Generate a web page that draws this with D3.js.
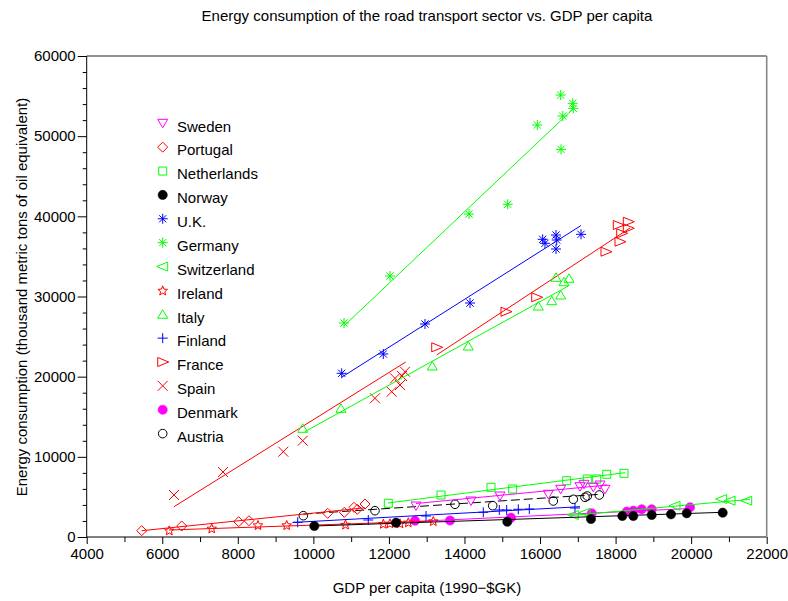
<!DOCTYPE html>
<html>
<head>
<meta charset="utf-8">
<script src="https://cdn.jsdelivr.net/npm/d3@7"></script>
<style>
  body { margin: 0; background: #fff; }
  text { font-family: "Liberation Sans", Arial, Helvetica, sans-serif; font-size: 15px; fill: #000; }
</style>
</head>
<body>
<svg id="chart" width="788" height="601"></svg>
<script>
// ---- data: GDP per capita (1990 $GK) vs road-transport energy use (kTOE) ----
const countries = ["Sweden", "Portugal", "Netherlands", "Norway", "U.K.", "Germany", "Switzerland",
                   "Ireland", "Italy", "Finland", "France", "Spain", "Denmark", "Austria"];

const sweden = [[12717,3867],[14173,4490],[14940,5114],[16219,5326],[16547,5950],[17058,6274],[17164,6574],[17410,6199],[17588,6486],[17720,5950]];
const portugal = [[5456,786],[6515,1372],[8023,1908],[8296,2033],[10379,2956],[10819,3081],[11076,3705],[11163,3455],[11367,4116]];
const netherlands = [[11984,4204],[13379,5239],[14702,6199],[15276,5987],[16706,7023],[17251,7235],[17500,7235],[17765,7821],[18223,7946]];
const norway = [[10025,1372],[12188,1784],[15134,1908],[17349,2245],[18178,2619],[18469,2619],[18956,2744],[19467,2832],[19882,2956],[20835,3031]];
const uk = [[10750,20419],[11851,22827],[12955,26569],[14146,29188],[16070,37134],[16131,36634],[16423,37670],[16441,37046],[16423,35924],[17085,37757]];
const germany = [[10811,26693],[12029,32556],[14120,40290],[15144,41500],[15928,51390],[16547,55130],[16555,48360],[16600,52510],[16865,54100],[16880,53470]];
const switzerland = [[16881,2744],[17190,3031],[19572,3904],[20809,4740],[21029,4528],[21471,4528]];
const ireland = [[6186,836],[7309,1085],[8534,1497],[9294,1497],[10851,1559],[11851,1659],[12028,1709],[12293,1709],[12513,1834],[13175,1996]];
const italy = [[9718,13559],[10731,16053],[13148,21330],[14101,23824],[15954,28814],[16309,29475],[16423,32393],[16547,30186],[16635,31845],[16767,32269]];
const finland = [[9585,1834],[11454,2121],[12982,2619],[14498,3081],[14922,3368],[15117,3368],[15425,3455],[15716,3493],[16925,3617]];
const france = [[13265,23662],[15099,28103],[15912,29899],[17746,35587],[18117,36834],[18072,38917],[18162,37882],[18336,39329],[18336,38506]];
const spain = [[6311,5239],[7608,8108],[9204,10640],[9718,12012],[11631,17301],[12073,18124],[12161,19796],[12293,18960],[12346,20082],[12426,20619]];
const denmark = [[12690,2033],[13617,2058],[15231,2407],[17368,2956],[18294,3156],[18469,3280],[18691,3455],[18956,3455],[19970,3705]];
const austria = [[9734,2657],[11631,3281],[13749,4079],[14747,3904],[16351,4490],[16881,4703],[17190,4952],[17251,5114],[17569,5239]];

// fitted trend per country: [start, end] in data units
const trends = [
  [[12717,4179],[17773,6486]],   // Sweden
  [[5456,786],[11367,3642]],     // Portugal
  [[11976,4241],[18250,8021]],   // Netherlands
  [[10017,1372],[20843,3081]],   // Norway
  [[10758,19958],[17077,38830]], // U.K.
  [[10811,26332],[16865,53349]], // Germany
  [[16793,2657],[21558,4703]],   // Switzerland
  [[6180,873],[13190,1996]],     // Ireland
  [[9775,13134],[16748,31309]],  // Italy
  [[9453,1809],[17058,3780]],    // Finland
  [[13265,22714],[18382,38543]], // France
  [[6311,3780],[12446,21830]],   // Spain
  [[12690,1933],[19970,3555]],   // Denmark
  [[9733,2856],[17588,5326]]     // Austria
];

const seriesPoints = [sweden, portugal, netherlands, norway, uk, germany, switzerland,
                      ireland, italy, finland, france, spain, denmark, austria];
const colors = ["#ff00ff","#ff0000","#00ff00","#000000","#0000ff","#00ff00","#00ff00",
                "#ff0000","#00ff00","#0000ff","#ff0000","#ff0000","#ff00ff","#000000"];
const markers = ["triDown","diamond","square","disc","asterisk","asterisk","triLeft",
                 "star","triUp","plus","triRight","cross","disc","circle"];

const xTicks = d3.range(4000, 22001, 2000);
const xMinor = d3.range(5000, 22000, 2000);
const yTicks = d3.range(0, 60001, 10000);
const yMinor = d3.range(2000, 60000, 2000).filter(v => v % 10000 !== 0);

// ---- layout ----
const svg = d3.select("#chart");
const x = d3.scaleLinear().domain([4000, 22000]).range([86.7, 766.7]);
const y = d3.scaleLinear().domain([0, 60000]).range([537, 56]);

// marker shapes, centred on the origin
function markerPath(kind) {
  switch (kind) {
    case "triDown":  return "M-5,-4L5,-4L0,4.5Z";
    case "triUp":    return "M-5,4L5,4L0,-4.5Z";
    case "triLeft":  return "M-6,0L5,-4.5L5,4.5Z";
    case "triRight": return "M6,0L-5,-4.5L-5,4.5Z";
    case "diamond":  return "M0,-5L5,0L0,5L-5,0Z";
    case "square":   return "M-4,-4H4V4H-4Z";
    case "plus":     return "M-5,0H5M0,-5V5";
    case "cross":    return "M-5,-5L5,5M-5,5L5,-5";
    case "asterisk": return "M-5,0H5M0,-5V5M-3.6,-3.6L3.6,3.6M-3.6,3.6L3.6,-3.6";
    case "star": {
      const pts = [];
      for (let i = 0; i < 10; i++) {
        const r = i % 2 === 0 ? 5 : 2.2;
        const a = -Math.PI / 2 + i * Math.PI / 5;
        pts.push([r * Math.cos(a), r * Math.sin(a) + 0.5]);
      }
      return "M" + pts.map(p => p[0].toFixed(2) + "," + p[1].toFixed(2)).join("L") + "Z";
    }
    default: return null;
  }
}

function drawMarker(g, kind, color) {
  if (kind === "disc") {
    g.append("circle").attr("r", 4.6).attr("fill", color).attr("stroke", color).attr("stroke-width", 0.6);
  } else if (kind === "circle") {
    g.append("circle").attr("r", 4.3).attr("fill", "none").attr("stroke", color).attr("stroke-width", 1);
  } else {
    g.append("path").attr("d", markerPath(kind)).attr("fill", "none")
      .attr("stroke", color).attr("stroke-width", 1);
  }
}

// ---- axes ----
const xAxis = svg.append("g").attr("transform", "translate(0,537)")
  .call(d3.axisBottom(x).tickValues(xTicks).tickSize(7).tickPadding(4).tickFormat(d3.format("d")));
svg.append("g").attr("transform", "translate(0,537)")
  .call(d3.axisBottom(x).tickValues(xMinor).tickSize(5).tickFormat(""))
  .call(g => g.select(".domain").remove());

const yAxis = svg.append("g").attr("transform", "translate(86.7,0)")
  .call(d3.axisLeft(y).tickValues(yTicks).tickSize(9).tickPadding(2).tickFormat(d3.format("d")));
svg.append("g").attr("transform", "translate(86.7,0)")
  .call(d3.axisLeft(y).tickValues(yMinor).tickSize(4).tickFormat(""))
  .call(g => g.select(".domain").remove());

svg.selectAll(".tick text").style("font-size", "15px").attr("fill", "#000");
svg.selectAll(".domain, .tick line").attr("stroke", "#000").attr("stroke-width", 1);
xAxis.select(".domain").attr("d", `M${x(4000)},0H${x(22000)}`);
yAxis.select(".domain").attr("d", `M0,${y(0)}V${y(60000)}`);

// frame: top edge dark, right edge grey
svg.append("line").attr("x1", x(4000)).attr("x2", x(22000)).attr("y1", y(60000)).attr("y2", y(60000))
  .attr("stroke", "#222").attr("stroke-width", 1);
svg.append("line").attr("x1", x(22000)).attr("x2", x(22000)).attr("y1", y(60000)).attr("y2", y(0))
  .attr("stroke", "#888").attr("stroke-width", 1.6);

// ---- series: trend lines then markers, last legend entry drawn first ----
const plot = svg.append("g");
const line = d3.line().x(d => x(d[0])).y(d => y(d[1]));
for (let i = countries.length - 1; i >= 0; i--) {
  const g = plot.append("g").attr("class", "series");
  g.append("path").datum(trends[i]).attr("d", line).attr("fill", "none")
    .attr("stroke", colors[i]).attr("stroke-width", 1)
    .attr("stroke-dasharray", countries[i] === "Austria" ? "9,4" : null);
  g.selectAll("g.pt").data(seriesPoints[i]).join("g").attr("class", "pt")
    .attr("transform", d => `translate(${x(d[0])},${y(d[1])})`)
    .each(function () { drawMarker(d3.select(this), markers[i], colors[i]); });
}

// ---- legend ----
const legend = svg.append("g");
countries.forEach((name, i) => {
  const row = legend.append("g").attr("transform", `translate(0,${123.3 + i * 23.87})`);
  drawMarker(row.append("g").attr("transform", "translate(162.7,0)"), markers[i], colors[i]);
  row.append("text").attr("x", 177).attr("y", 3).attr("dy", "0.35em").text(name);
});

// ---- titles ----
svg.append("text").attr("x", 427).attr("y", 21).attr("text-anchor", "middle")
  .text("Energy consumption of the road transport sector vs. GDP per capita");
svg.append("text").attr("x", 427).attr("y", 593).attr("text-anchor", "middle")
  .text("GDP per capita (1990\u2212$GK)");
svg.append("text").attr("transform", "translate(27,297) rotate(-90)").attr("text-anchor", "middle")
  .text("Energy consumption (thousand metric tons of oil equivalent)");
</script>
</body>
</html>
